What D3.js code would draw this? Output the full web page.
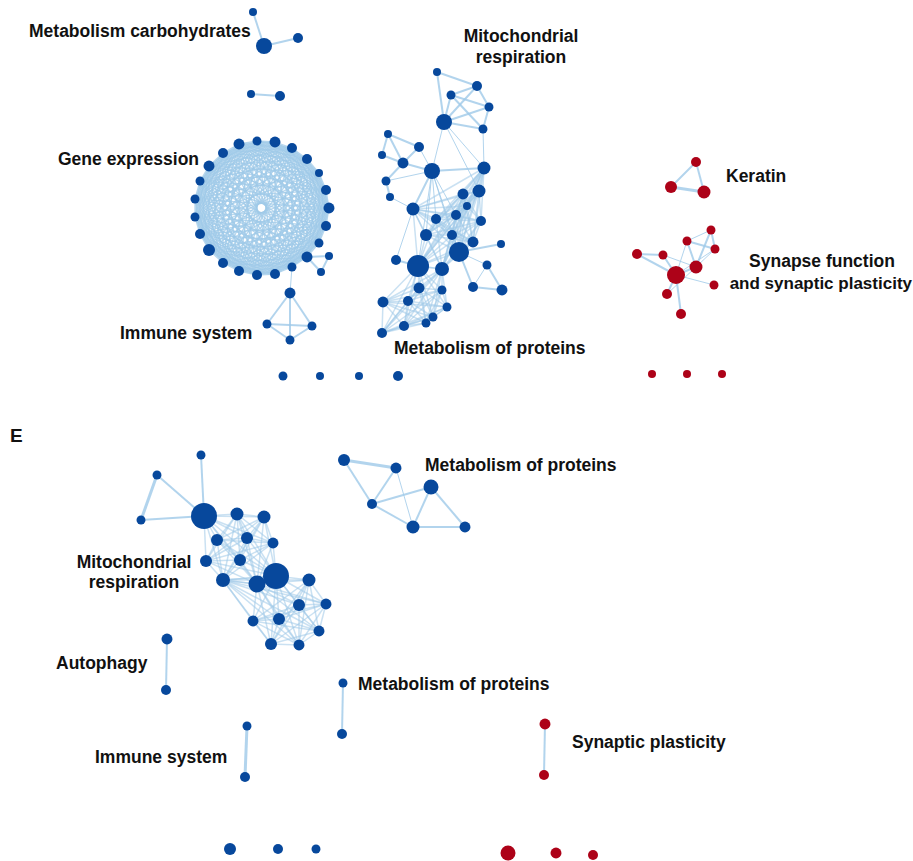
<!DOCTYPE html>
<html>
<head>
<meta charset="utf-8">
<script src="https://cdn.jsdelivr.net/npm/d3@7"></script>
<style>
  body { margin: 0; background: #fff; }
  text { font-family: "Liberation Sans", Arial, sans-serif; font-weight: bold; fill: #111; }
</style>
</head>
<body>
<svg id="chart"></svg>
<script>
// node: [id, layoutX, layoutY, degree, regulation]
const topNodes = [
  ["c1",253,12,16,"down"],["c2",264,46,64,"down"],["c3",298,38,25,"down"],
  ["c4",251,94,16,"down"],["c5",280,96,25,"down"],
  // gene expression ring
  ["g1",239,144,30,"down"],["g2",257,141,20,"down"],["g3",275,142,30,"down"],["g4",292,148,25,"down"],
  ["g5",307,159,25,"down"],["g6",319,173,16,"down"],["g7",326,190,25,"down"],["g8",329,208,30,"down"],
  ["g9",326,226,25,"down"],["g10",319,243,20,"down"],["g11",307,257,30,"down"],["g12",292,267,20,"down"],
  ["g13",275,274,25,"down"],["g14",257,275,25,"down"],["g15",239,271,25,"down"],["g16",223,263,25,"down"],
  ["g17",209,250,36,"down"],["g18",200,234,25,"down"],["g19",195,217,20,"down"],["g20",195,199,20,"down"],
  ["g21",200,181,20,"down"],["g22",209,166,30,"down"],["g23",223,153,25,"down"],
  ["g24",329,256,16,"down"],["g25",321,272,16,"down"],
  // immune
  ["i1",290,293,30,"down"],["i2",267,324,20,"down"],["i3",312,326,20,"down"],["i4",290,340,20,"down"],
  ["s1",283,376,20,"down"],["s2",320,376,16,"down"],["s3",359,376,16,"down"],["s4",398,376,25,"down"],
  // mitochondrial respiration
  ["m1",437,72,16,"down"],["m2",477,86,25,"down"],["m3",451,95,20,"down"],["m4",489,107,20,"down"],
  ["m5",444,122,64,"down"],["m6",483,129,20,"down"],["m7",388,134,16,"down"],["m8",419,147,25,"down"],
  ["m9",382,155,16,"down"],["m10",403,163,30,"down"],["m11",432,171,64,"down"],["m12",484,168,42,"down"],
  ["m13",386,181,20,"down"],["m14",390,197,16,"down"],["m15",463,194,30,"down"],["m16",479,191,42,"down"],
  // metabolism of proteins
  ["p1",467,206,16,"down"],["p2",413,209,42,"down"],["p3",436,219,25,"down"],["p4",456,215,25,"down"],
  ["p5",481,221,25,"down"],["p6",426,235,36,"down"],["p7",452,235,25,"down"],["p8",473,242,30,"down"],
  ["p9",501,244,16,"down"],["p10",459,252,100,"down"],["p11",396,260,25,"down"],["p12",418,266,121,"down"],
  ["p13",442,269,49,"down"],["p14",487,265,20,"down"],["p15",419,288,30,"down"],["p16",442,290,20,"down"],
  ["p17",473,287,25,"down"],["p18",502,290,30,"down"],["p19",383,302,30,"down"],["p20",408,301,25,"down"],
  ["p21",447,307,20,"down"],["p22",433,317,20,"down"],["p23",404,326,25,"down"],["p24",426,323,20,"down"],
  ["p25",382,333,25,"down"],
  // keratin, synapse
  ["k1",696,162,25,"up"],["k2",671,187,36,"up"],["k3",704,192,42,"up"],
  ["y1",711,230,20,"up"],["y2",687,241,20,"up"],["y3",715,249,20,"up"],["y4",637,254,25,"up"],
  ["y5",663,255,20,"up"],["y6",696,267,42,"up"],["y7",676,275,81,"up"],["y8",714,285,20,"up"],
  ["y9",667,294,25,"up"],["y10",681,314,25,"up"],
  ["r1",652,374,16,"up"],["r2",687,374,16,"up"],["r3",722,374,16,"up"]
];

const bottomNodes = [
  ["e1",201,455,20,"down"],["e2",157,475,20,"down"],["e3",141,520,20,"down"],["e4",204,516,169,"down"],
  ["e5",237,514,42,"down"],["e6",264,517,42,"down"],["e7",217,540,36,"down"],["e8",247,538,36,"down"],
  ["e9",273,543,30,"down"],["e10",206,561,36,"down"],["e11",240,560,36,"down"],["e12",223,580,49,"down"],
  ["e13",257,584,72,"down"],["e14",276,576,169,"down"],["e15",309,580,42,"down"],["e16",299,605,36,"down"],
  ["e17",326,604,30,"down"],["e18",253,621,30,"down"],["e19",279,619,36,"down"],["e20",319,631,30,"down"],
  ["e21",271,644,36,"down"],["e22",299,645,30,"down"],
  ["q1",344,460,36,"down"],["q2",396,468,30,"down"],["q3",431,487,56,"down"],["q4",372,504,25,"down"],
  ["q5",413,527,42,"down"],["q6",465,527,30,"down"],
  ["a1",167,639,30,"down"],["a2",166,690,25,"down"],
  ["n1",343,683,20,"down"],["n2",342,734,25,"down"],
  ["u1",247,726,20,"down"],["u2",245,777,25,"down"],
  ["z1",545,724,30,"up"],["z2",544,775,25,"up"],
  ["b1",230,849,36,"down"],["b2",278,849,25,"down"],["b3",316,849,20,"down"],
  ["w1",508,853,56,"up"],["w2",556,853,30,"up"],["w3",593,855,25,"up"]
];

// links: [source, target, strength]
const topLinks = [
  ["c1","c2",2],["c2","c3",2],["c4","c5",2],
  ["g11","g24",2],["g11","g25",2],["g24","g25",2],["g12","i1",1],
  ["i1","i2",2],["i1","i3",2],["i1","i4",2],["i2","i3",2],["i2","i4",2],["i3","i4",2],
  ["m1","m2",2],["m1","m5",2],["m2","m3",2],["m2","m4",2],["m2","m5",2],["m3","m4",2],
  ["m3","m5",2],["m3","m6",2],["m4","m6",2],["m4","m5",2],["m5","m6",2],["m5","m11",1],
  ["m5","m12",1],["m5","m16",1],["m6","m12",1],["m7","m8",2],["m7","m9",2],["m7","m10",2],
  ["m9","m10",2],["m8","m10",2],["m8","m11",1],["m10","m11",2],["m10","m13",2],["m13","m14",2],
  ["m13","m11",1],["m14","p2",1],["m11","m12",2],["m11","p2",2],["m11","p6",1],["m11","p3",1],
  ["m11","p7",1],["m11","p10",1],["m11","p12",1],["m11","p4",1],
  ["p10","p9",2],["p10","p14",1],["p10","p17",2],["p14","p18",2],["p17","p18",2],["p14","p17",1],
  ["p11","p12",2],["p11","p2",1],
  ["k1","k2",2],["k1","k3",2],["k2","k3",3],
  ["y4","y5",2],["y4","y7",2],["y5","y7",2],["y5","y6",1],["y2","y1",1],["y2","y3",2],["y2","y6",2],
  ["y2","y7",1],["y1","y3",2],["y1","y6",2],["y3","y6",1],["y3","y7",1],["y6","y7",2],["y7","y8",1],
  ["y7","y9",2],["y7","y10",2],["y6","y9",1]
];

const bottomLinks = [
  ["e1","e4",2],["e2","e3",3],["e2","e4",2],["e3","e4",2],
  ["q1","q2",3],["q1","q4",2],["q2","q4",2],["q2","q5",1],["q4","q3",2],["q4","q5",2],
  ["q3","q5",2],["q3","q6",2],["q5","q6",2],
  ["a1","a2",2],["n1","n2",2],["u1","u2",3],["z1","z2",2]
];

// fully connected groups
const topCliques = [
  {ids:["g1","g2","g3","g4","g5","g6","g7","g8","g9","g10","g11","g12","g13","g14","g15","g16","g17","g18","g19","g20","g21","g22","g23"], strength:1.3, ring:true},
  {ids:["m12","m16","m15","p1","p2","p3","p4","p5","p6","p7","p8","p10","p12","p13"], strength:1.5},
  {ids:["p12","p13","p15","p16","p19","p20","p21","p22","p23","p24","p25"], strength:1.5}
];
const bottomCliques = [
  {ids:["e4","e5","e6","e7","e8","e9","e10","e11","e12","e13","e14"], strength:1.5},
  {ids:["e12","e13","e14","e15","e16","e17","e18","e19","e20","e21","e22"], strength:1.5}
];

const labels = [
  ["Metabolism carbohydrates",29,31,"start"],
  ["Mitochondrial",521,36,"middle"],["respiration",521,57,"middle"],
  ["Gene expression",58,159,"start"],
  ["Keratin",726,176,"start"],
  ["Synapse function",822,261,"middle"],["and synaptic plasticity",912,283,"end"],
  ["Immune system",120,333,"start"],
  ["Metabolism of proteins",394,348,"start"],
  ["E",10,435,"start"],
  ["Metabolism of proteins",425,465,"start"],
  ["Mitochondrial",134,562,"middle"],["respiration",134,582,"middle"],
  ["Autophagy",56,663,"start"],
  ["Metabolism of proteins",358,684,"start"],
  ["Immune system",95,757,"start"],
  ["Synaptic plasticity",572,742,"start"]
];

const width = 913, height = 861;
const svg = d3.select("#chart").attr("width", width).attr("height", height);

const x = d3.scaleLinear().domain([0, 913]).range([0, width]);
const y = d3.scaleLinear().domain([0, 861]).range([0, height]);
const r = d3.scaleSqrt().domain([0, 169]).range([0, 13]);
const color = d3.scaleOrdinal().domain(["down","up"]).range(["#07489c","#ad0218"]);
const strokeW = d3.scaleLinear().domain([1, 3]).range([1, 3]);

const nodes = topNodes.concat(bottomNodes).map(d => ({id:d[0], x:d[1], y:d[2], deg:d[3], dir:d[4]}));
const byId = new Map(nodes.map(n => [n.id, n]));

const links = topLinks.concat(bottomLinks).map(l => ({s:l[0], t:l[1], w:l[2], op:0.8}));
topCliques.concat(bottomCliques).forEach(c => {
  for (let i = 0; i < c.ids.length; i++)
    for (let j = i + 1; j < c.ids.length; j++)
      links.push({s:c.ids[i], t:c.ids[j], w:c.strength, op:c.ring ? 0.75 : 0.55});
});

svg.append("g").attr("class", "links")
  .selectAll("line")
  .data(links)
  .enter().append("line")
  .attr("x1", d => x(byId.get(d.s).x))
  .attr("y1", d => y(byId.get(d.s).y))
  .attr("x2", d => x(byId.get(d.t).x))
  .attr("y2", d => y(byId.get(d.t).y))
  .attr("stroke", "#9fc9e8")
  .attr("stroke-opacity", d => d.op)
  .attr("stroke-width", d => strokeW(d.w));

svg.append("g").attr("class", "nodes")
  .selectAll("circle")
  .data(nodes)
  .enter().append("circle")
  .attr("cx", d => x(d.x))
  .attr("cy", d => y(d.y))
  .attr("r", d => r(d.deg))
  .attr("fill", d => color(d.dir));

svg.append("g").attr("class", "labels")
  .selectAll("text")
  .data(labels)
  .enter().append("text")
  .attr("x", d => x(d[1]))
  .attr("y", d => y(d[2]))
  .attr("dy", "0.35em")
  .attr("text-anchor", d => d[3])
  .attr("font-size", d => d[0] === "E" ? 19 : (d[0] === "and synaptic plasticity" ? 17 : 17.5))
  .text(d => d[0]);
</script>
</body>
</html>
